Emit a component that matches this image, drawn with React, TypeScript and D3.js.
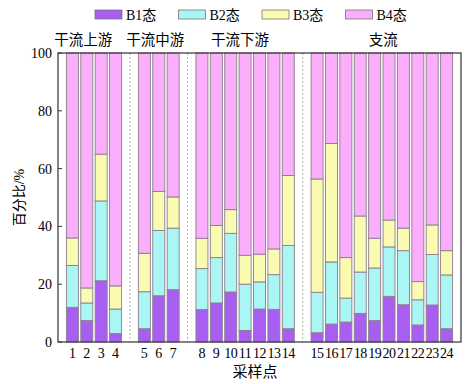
import * as d3 from "d3";

// sampling points 1..24, grouped by river section
const points = d3.range(1, 25).map(String);
const states = ["B1态", "B2态", "B3态", "B4态"];
const colors = ["#a95ef2", "#aaf6f4", "#fafab0", "#fbaefb"];

const b1 = [12.0, 7.4, 21.2, 2.9, 4.6, 16.0, 18.1, 11.2, 13.5, 17.3, 4.0, 11.4, 11.3, 4.6, 3.2, 6.2, 6.9, 9.9, 7.4, 15.8, 12.9, 5.9, 12.8, 4.6];
const b2 = [14.5, 6.1, 27.6, 8.5, 12.8, 22.6, 21.3, 14.2, 15.7, 20.3, 16.0, 9.4, 12.0, 28.8, 14.0, 21.5, 8.3, 14.3, 18.2, 17.1, 18.7, 8.7, 17.5, 18.6];
const b3 = [9.5, 5.2, 16.2, 8.0, 13.3, 13.5, 10.8, 10.5, 11.1, 8.2, 10.0, 9.6, 8.9, 24.2, 39.2, 41.0, 14.0, 19.4, 10.3, 9.3, 7.8, 6.3, 10.2, 8.4];

const groups = ["干流上游", "干流中游", "干流下游", "支流"];
const groupSizes = [4, 3, 7, 10];
// where each group title sits, in bar-slot units
const groupLabelAt = [1.75, 6.75, 12.65, 22.6];
const yTicks = [0, 20, 40, 60, 80, 100];

const W = 473;
const H = 384;
const left = 58, right = 461, top = 53, bottom = 342;
const font = "'Liberation Serif', 'Noto Sans CJK SC', serif";

export default function App() {
  // slot position of each bar, with an empty slot between groups
  const slots: number[] = [];
  const seps: number[] = [];
  let s = 1;
  groupSizes.forEach((n, gi) => {
    for (let k = 0; k < n; k++) slots.push(s++);
    if (gi < groupSizes.length - 1) seps.push(s++);
  });

  const x = d3.scaleLinear().domain([0, s]).range([left, right]);
  const y = d3.scaleLinear().domain([0, 100]).range([bottom, top]);
  const barW = 12;

  const rows = points.map((p, i) => ({
    p,
    B1态: b1[i],
    B2态: b2[i],
    B3态: b3[i],
    B4态: 100 - b1[i] - b2[i] - b3[i],
  }));
  const stacked = d3.stack<any>().keys(states)(rows);

  return (
    <svg width={W} height={H} style={{ position: "absolute", left: 0, top: 0, background: "#fff" }} fontFamily={font}>
      {/* legend */}
      {states.map((st, i) => {
        const lx = 95 + i * 83.5;
        return (
          <g key={st}>
            <rect x={lx} y={10} width={27} height={9} fill={colors[i]} stroke="#777" strokeWidth={0.8} />
            <text x={lx + 31} y={20} fontSize={14}>{st}</text>
          </g>
        );
      })}

      {/* group labels */}
      {groups.map((g, i) => (
        <text key={g} x={x(groupLabelAt[i])} y={45} fontSize={14.5} textAnchor="middle">{g}</text>
      ))}

      {/* bars */}
      {stacked.map((layer, li) =>
        layer.map((d, i) => (
          <rect
            key={li + "-" + i}
            x={x(slots[i]) - barW / 2}
            y={y(d[1])}
            width={barW}
            height={y(d[0]) - y(d[1])}
            fill={colors[li]}
            stroke="#8a7f8a"
            strokeWidth={0.9}
          />
        ))
      )}

      {/* separators */}
      {seps.map((sp) => (
        <line key={sp} x1={x(sp)} x2={x(sp)} y1={top} y2={bottom} stroke="#999" strokeWidth={0.8} strokeDasharray="2,2" />
      ))}

      {/* frame */}
      <rect x={left} y={top} width={right - left} height={bottom - top} fill="none" stroke="#333" strokeWidth={1.2} />

      {/* y axis */}
      {yTicks.map((t) => (
        <g key={t}>
          <line x1={left} x2={left + 4} y1={y(t)} y2={y(t)} stroke="#333" />
          <text x={left - 6} y={y(t) + 5} fontSize={14} textAnchor="end">{t}</text>
        </g>
      ))}
      <text transform={`translate(24,${(top + bottom) / 2}) rotate(-90)`} fontSize={14} textAnchor="middle">百分比/%</text>

      {/* x axis */}
      {points.map((p, i) => (
        <text key={p} x={x(slots[i])} y={358} fontSize={14} textAnchor="middle" letterSpacing={p.length > 1 ? -0.5 : 0}>{p}</text>
      ))}
      <text x={255} y={377} fontSize={15} textAnchor="middle">采样点</text>
    </svg>
  );
}
